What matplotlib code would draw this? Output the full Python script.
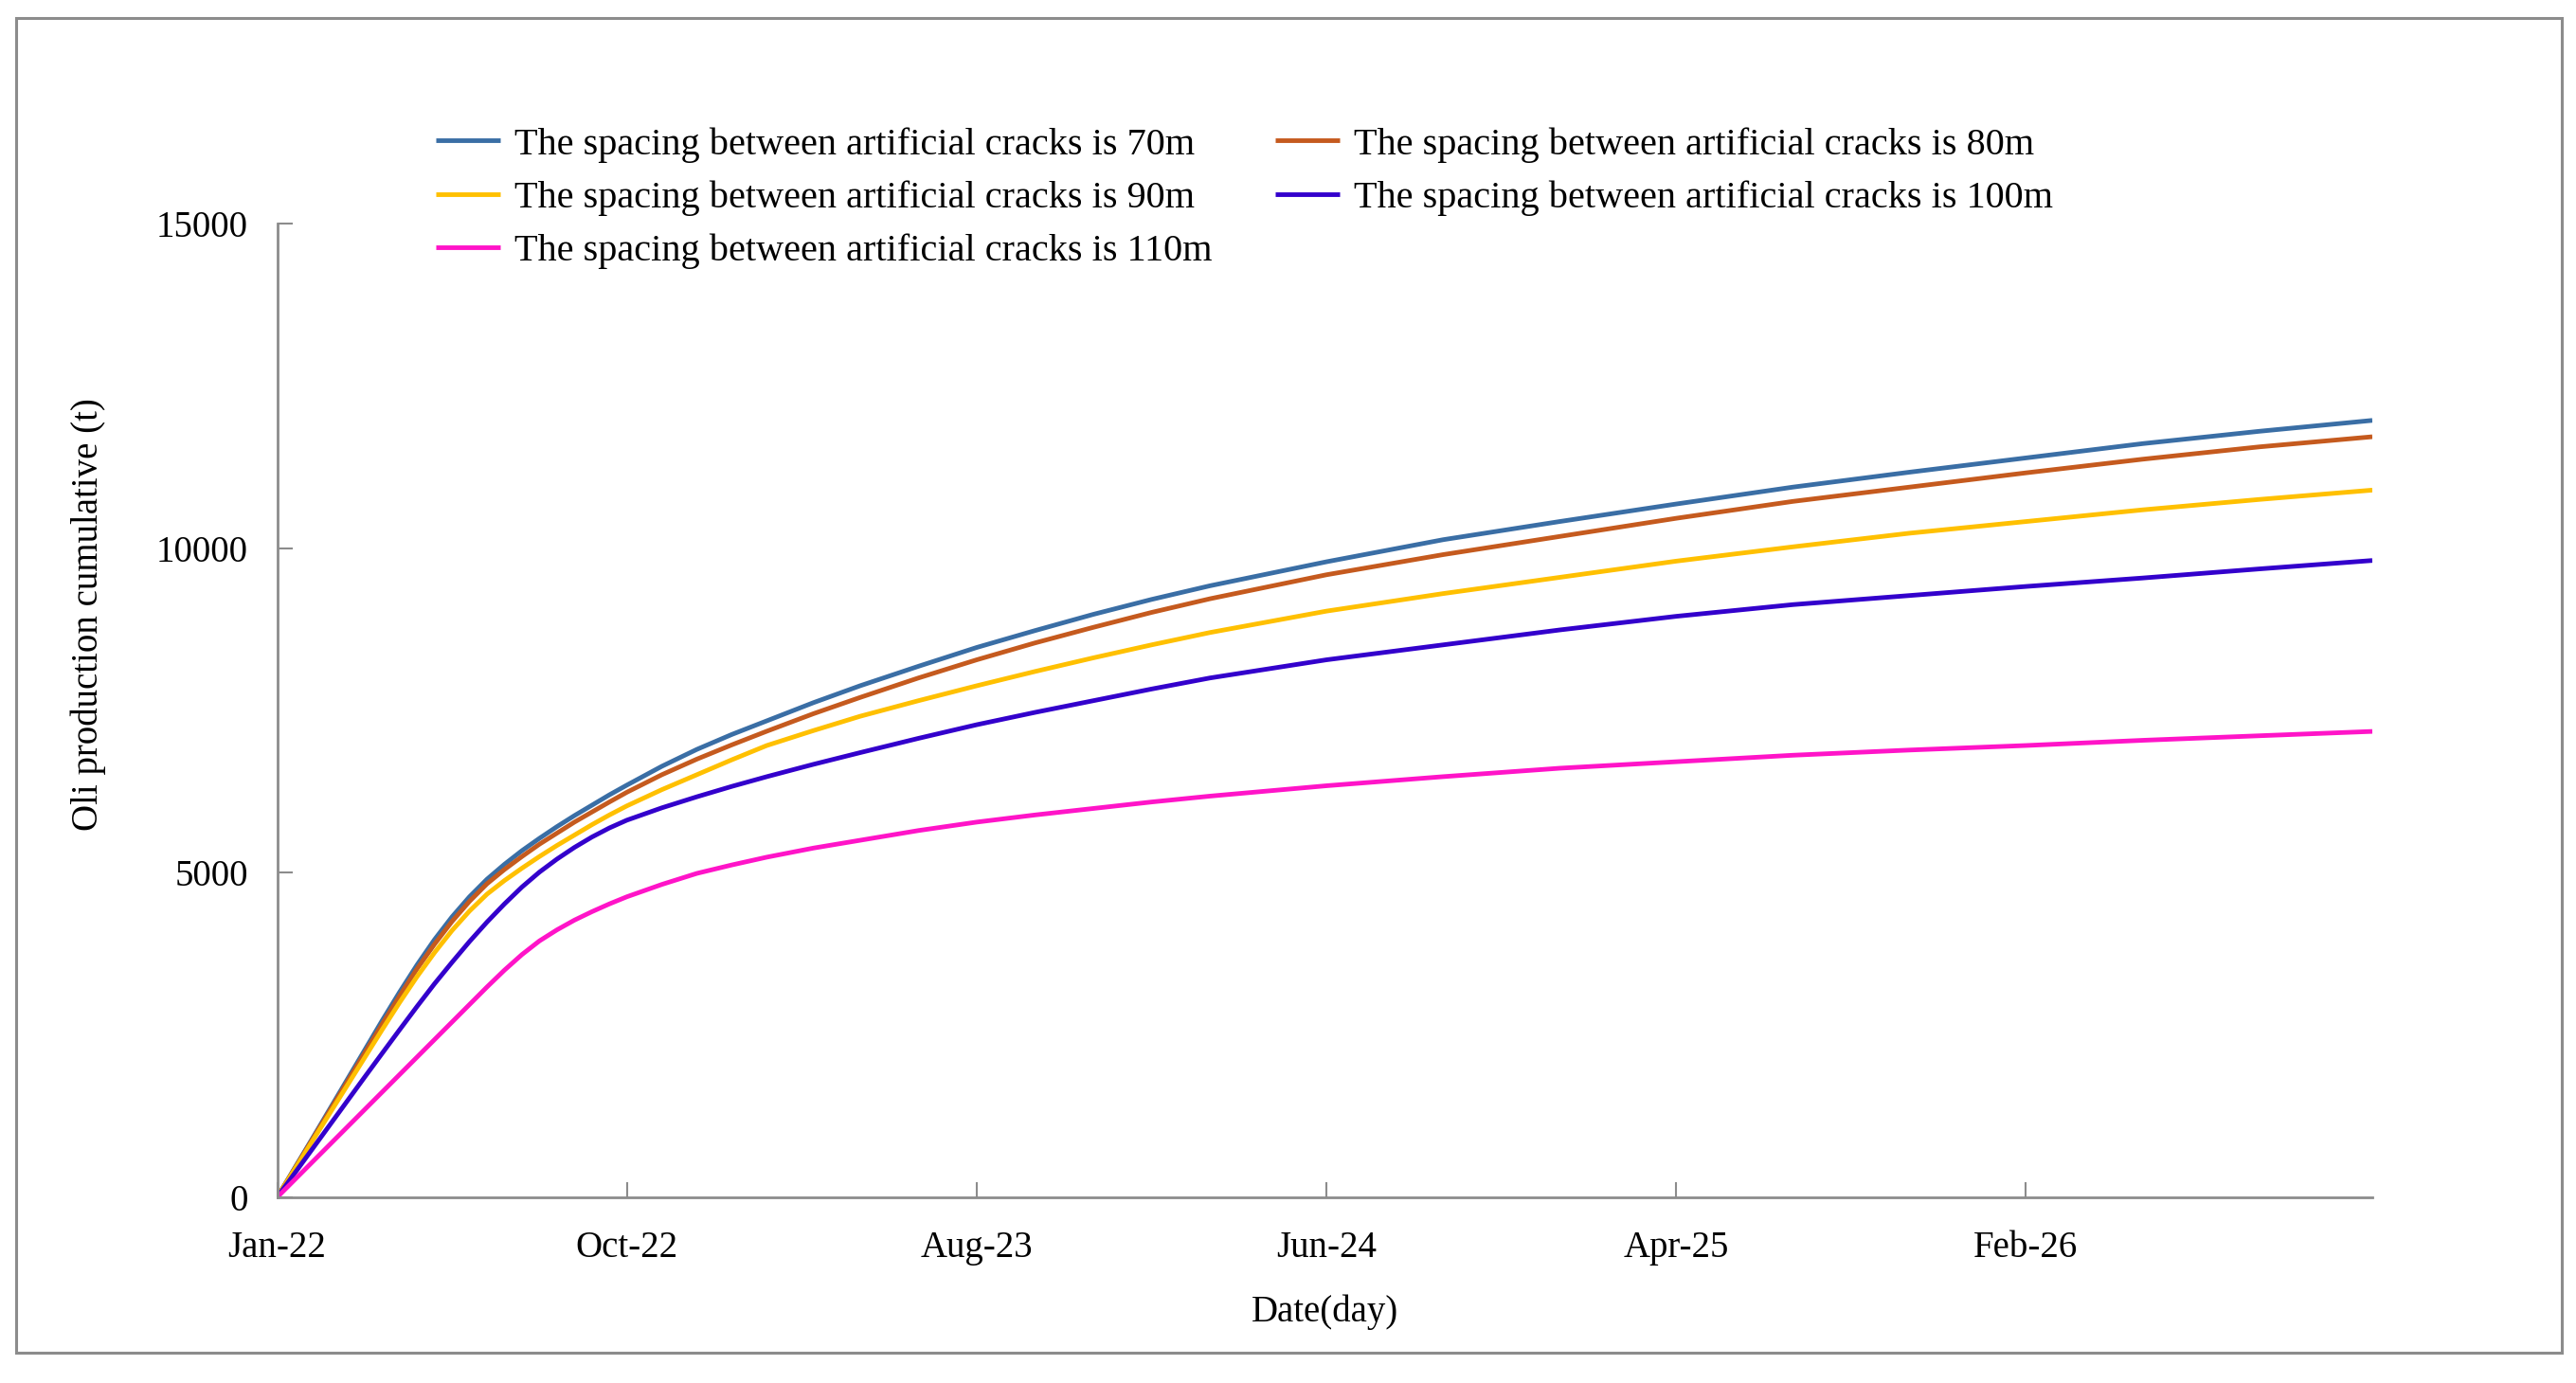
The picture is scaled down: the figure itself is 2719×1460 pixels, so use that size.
import matplotlib
matplotlib.use("Agg")
import matplotlib.pyplot as plt
from matplotlib.patches import Rectangle

# days since Jan-22 and cumulative oil production (t) per crack spacing
days = [0, 15, 30, 45, 60, 75, 90, 105, 120, 135, 150, 165, 180, 195, 210, 225,
        240, 255, 270, 285, 300, 330, 360, 390, 420, 460, 500, 550, 600, 650,
        700, 750, 800, 900, 1000, 1100, 1200, 1300, 1400, 1500, 1600, 1700, 1797]

cum_70m = [0, 450, 900, 1355, 1810, 2265, 2720, 3160, 3580, 3970, 4320, 4630,
           4900, 5130, 5340, 5530, 5710, 5880, 6040, 6200, 6350, 6640, 6900,
           7130, 7340, 7620, 7880, 8180, 8470, 8730, 8980, 9210, 9420, 9790,
           10130, 10410, 10680, 10940, 11170, 11390, 11610, 11800, 11968]
cum_80m = [0, 440, 885, 1330, 1775, 2220, 2665, 3100, 3520, 3900, 4250, 4560,
           4830, 5050, 5250, 5440, 5610, 5780, 5935, 6090, 6240, 6510, 6750,
           6970, 7180, 7450, 7700, 8000, 8280, 8540, 8780, 9010, 9220, 9590,
           9900, 10180, 10460, 10720, 10940, 11160, 11370, 11560, 11716]
cum_90m = [0, 430, 860, 1290, 1720, 2150, 2580, 3000, 3400, 3770, 4110, 4410,
           4670, 4880, 5070, 5250, 5420, 5580, 5740, 5890, 6030, 6280, 6510,
           6740, 6960, 7190, 7410, 7650, 7880, 8100, 8310, 8510, 8700, 9030,
           9300, 9550, 9800, 10020, 10230, 10410, 10590, 10750, 10894]
cum_100m = [0, 370, 740, 1110, 1480, 1850, 2216, 2580, 2940, 3290, 3620, 3940,
            4240, 4520, 4780, 5010, 5210, 5390, 5550, 5690, 5810, 6000, 6170,
            6330, 6480, 6670, 6850, 7070, 7280, 7470, 7650, 7830, 8000, 8280,
            8510, 8740, 8950, 9130, 9270, 9410, 9540, 9680, 9810]
cum_110m = [0, 270, 540, 810, 1080, 1350, 1620, 1890, 2160, 2430, 2700, 2970,
            3240, 3500, 3740, 3950, 4120, 4270, 4400, 4520, 4630, 4820, 4990,
            5120, 5240, 5380, 5500, 5650, 5780, 5890, 5990, 6090, 6180, 6340,
            6480, 6610, 6710, 6810, 6890, 6960, 7040, 7110, 7177]

labels = [
    "The spacing between artificial cracks is 70m",
    "The spacing between artificial cracks is 80m",
    "The spacing between artificial cracks is 90m",
    "The spacing between artificial cracks is 100m",
    "The spacing between artificial cracks is 110m",
]
colors = ["#3A6EA5", "#C55A1E", "#FFC000", "#3300CC", "#FF14C8"]

tick_days = [0, 300, 600, 900, 1200, 1500]
tick_labels = ["Jan-22", "Oct-22", "Aug-23", "Jun-24", "Apr-25", "Feb-26"]
y_ticks = [0, 5000, 10000, 15000]

W, H = 2719, 1460
plt.rcParams["font.family"] = ["Liberation Serif", "DejaVu Serif"]

fig = plt.figure(figsize=(W / 100, H / 100), dpi=100)
ax = fig.add_axes([292.5 / W, 1 - 1264 / H, (2504 - 292.5) / W, (1264 - 236) / H])

series = [cum_70m, cum_80m, cum_90m, cum_100m, cum_110m]
handles = []
for vals, lab, col in zip(series, labels, colors):
    (ln,) = ax.plot(days, vals, color=col, lw=3.5, label=lab,
                    solid_capstyle="butt", solid_joinstyle="round")
    handles.append(ln)

ax.set_xlim(0, days[-1])
ax.set_ylim(0, 15000)
ax.set_xticks(tick_days)
ax.set_xticklabels(tick_labels)
ax.set_yticks(y_ticks)
ax.set_yticklabels([str(v) for v in y_ticks])

for side in ["top", "right"]:
    ax.spines[side].set_visible(False)
for side in ["left", "bottom"]:
    ax.spines[side].set_color("#8C8C8C")
    ax.spines[side].set_linewidth(2.0)
ax.tick_params(axis="both", direction="in", length=11.5, width=1.5,
               color="#8C8C8C", labelsize=28)
ax.tick_params(axis="x", pad=25)
ax.tick_params(axis="y", pad=22)

ax.set_xlabel("Date(day)", fontsize=28, labelpad=22)
fig.text(93 / W, 1 - 649 / H, "Oli production cumulative (t)", rotation=90,
         ha="center", va="center", fontsize=28)

# legend filled row by row: 70m 80m / 90m 100m / 110m
order = [0, 2, 4, 1, 3]
ax.legend([handles[i] for i in order], [labels[i] for i in order], ncol=2,
          loc="upper left", bbox_to_anchor=(460 / W, 1 - 134 / H),
          bbox_transform=fig.transFigure, frameon=False, fontsize=29,
          borderpad=0, borderaxespad=0, handlelength=1.7, handletextpad=0.36,
          columnspacing=1.65, labelspacing=0.46)

fig.patches.append(Rectangle((17 / W, 1 - 1428 / H), (2704 - 17) / W, (1428 - 19) / H,
                             transform=fig.transFigure, fill=False,
                             edgecolor="#8C8C8C", lw=2.2))

fig.savefig("out.png", dpi=100)
